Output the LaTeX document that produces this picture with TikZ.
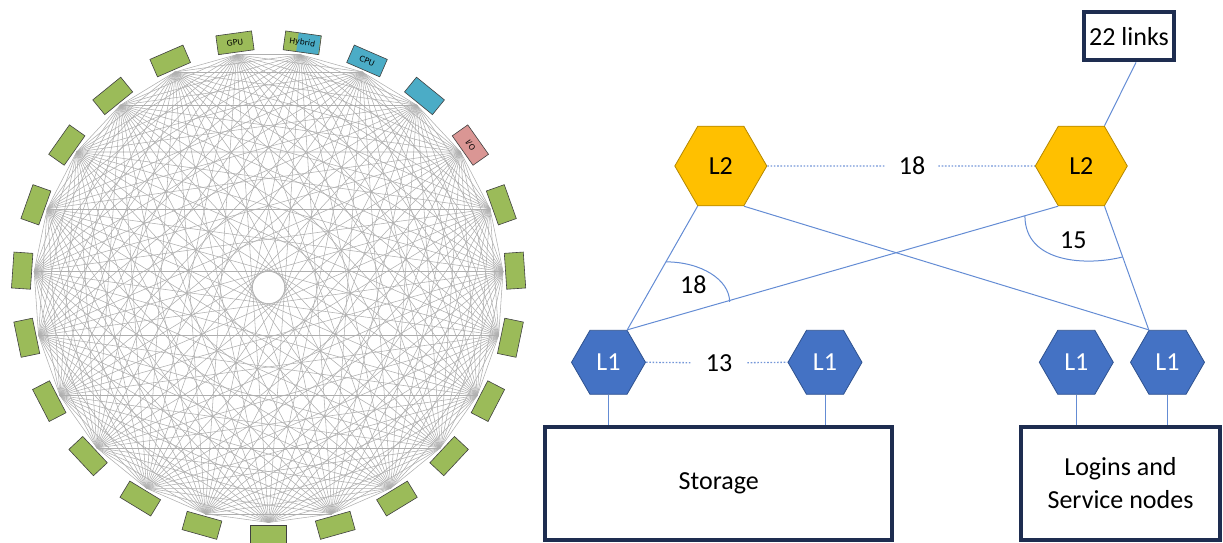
\documentclass[tikz,border=0pt]{standalone}
\usepackage{fontspec}
\setmainfont{Carlito}
\newfontfamily\grpfont{DejaVu Sans}
\usetikzlibrary{calc,shapes.geometric}
\definecolor{grpgreen}{RGB}{155,187,89}
\definecolor{grpblue}{RGB}{75,172,198}
\definecolor{grpred}{RGB}{218,150,148}
\definecolor{meshgray}{RGB}{175,175,175}
\definecolor{linkblue}{RGB}{100,140,212}
\definecolor{goldfill}{RGB}{255,192,0}
\definecolor{golddraw}{RGB}{180,135,0}
\definecolor{lonefill}{RGB}{68,114,196}
\definecolor{lonedraw}{RGB}{47,82,143}
\definecolor{boxnavy}{RGB}{30,45,80}
\tikzset{
	grp/.style={draw=black!75,line width=0.6,fill=grpgreen,minimum width=36,minimum height=19,inner sep=0,font=\grpfont\fontsize{7.8}{9}\selectfont},
	mesh/.style={draw=meshgray,line width=0.55},
	hexl2/.style={regular polygon,regular polygon sides=6,minimum size=92,inner sep=0,fill=goldfill,draw=golddraw,line width=0.8},
	hexl1/.style={regular polygon,regular polygon sides=6,minimum size=74,inner sep=0,fill=lonefill,draw=lonedraw,line width=0.8,text=white},
	link/.style={draw=linkblue,line width=1},
	dotlink/.style={draw=linkblue!90,line width=1.3,dash pattern=on 1.6pt off 1.7pt},
	bigbox/.style={draw=boxnavy,line width=4,fill=white,align=center},
	lbl/.style={inner sep=0,inner xsep=13}
}
\begin{document}
\begin{tikzpicture}[x=1pt,y=-1pt,font=\fontsize{26}{33}\selectfont]
	\useasboundingbox (0,0) rectangle (1223,543);
	\coordinate (ctr) at (268.6,287.5);
	\foreach \k in {0,...,22}
	{
		\pgfmathsetmacro\ang{270+\k*360/23}
		\coordinate (p\k) at ($(ctr)+(-\ang:235)$);
	}
	\foreach \i in {0,...,21}
	{
		\pgfmathtruncatemacro\nxt{\i+1}
		\foreach \j in {\nxt,...,22}
		{
			\draw[mesh] (p\i) -- (p\j);
		}
	}
	\foreach \k in {0,...,7,13,14,...,22}
	{
		\pgfmathsetmacro\ang{270+\k*360/23}
		\node[grp,rotate=\ang-90] (g\k) at ($(ctr)+(-\ang:247)$) {};
	}
	\foreach \k/\col/\txt in {8/grpred/{I/O},9/grpblue/{},10/grpblue/CPU,12/grpgreen/GPU}
	{
		\pgfmathsetmacro\ang{270+\k*360/23}
		\node[grp,fill=\col,rotate=\ang-90] (g\k) at ($(ctr)+(-\ang:247)$) {\txt};
	}
	\pgfmathsetmacro\ang{270+11*360/23}
	\node[grp,rotate=\ang-90,path picture={\fill[grpblue] ($(path picture bounding box.south west)!0.33!(path picture bounding box.south east)$) rectangle (path picture bounding box.north east);}] (g11) at ($(ctr)+(-\ang:247)$) {Hybrid};

	\node[hexl2] (l2a) at (720.8,166) {L2};
	\node[hexl2] (l2b) at (1081.3,166) {L2};
	\node[hexl1] (l1a) at (608.5,362.3) {L1};
	\node[hexl1] (l1b) at (825,362.3) {L1};
	\node[hexl1] (l1c) at (1076.3,362.3) {L1};
	\node[hexl1] (l1d) at (1167.5,362.3) {L1};
	\node[bigbox,minimum width=346.7,minimum height=112.7] (store) at (718.7,483.3) {Storage};
	\node[bigbox,minimum width=198.4,minimum height=112.7] (login) at (1120.5,483.3) {Logins and\\Service nodes};
	\node[bigbox,minimum width=90.4,minimum height=48.3,inner sep=0] (links) at (1129,36.2) {22 links};
	\node[lbl] (d18) at (912,166) {18};
	\node[lbl,inner xsep=15] (d13) at (719,362.7) {13};
	\node (a18) at (693.4,285) {18};
	\node (a15) at (1073.3,240) {15};

	\draw[link] (links.-75) -- (l2b.60);
	\draw[link] (l2a.240) -- (l1a.60);
	\draw[link] (l2b.240) -- (l1a.60);
	\draw[link] (l2a.300) -- (l1d.120);
	\draw[link] (l2b.300) -- (l1d.120);
	\draw[dotlink] (l2a.east) -- (d18.west);
	\draw[dotlink] (d18.east) -- (l2b.west);
	\draw[dotlink] (l1a.east) -- (d13.west);
	\draw[dotlink] (d13.east) -- (l1b.west);
	\foreach \n in {l1a,l1b}
		\draw[link] (\n.south) -- (\n.south |- store.north);
	\foreach \n in {l1c,l1d}
		\draw[link] (\n.south) -- (\n.south |- login.north);
	\draw[link] ($(l2a.240)!0.45!(l1a.60)$) arc[start angle=-90,end angle=0,x radius=63.7,y radius=40];
	\draw[link] ($(l2b.240)!0.077!(l1a.60)$) .. controls +(0,48) and +(-35,9) .. ($(l2b.300)!0.41!(l1d.120)$);
\end{tikzpicture}
\end{document}
